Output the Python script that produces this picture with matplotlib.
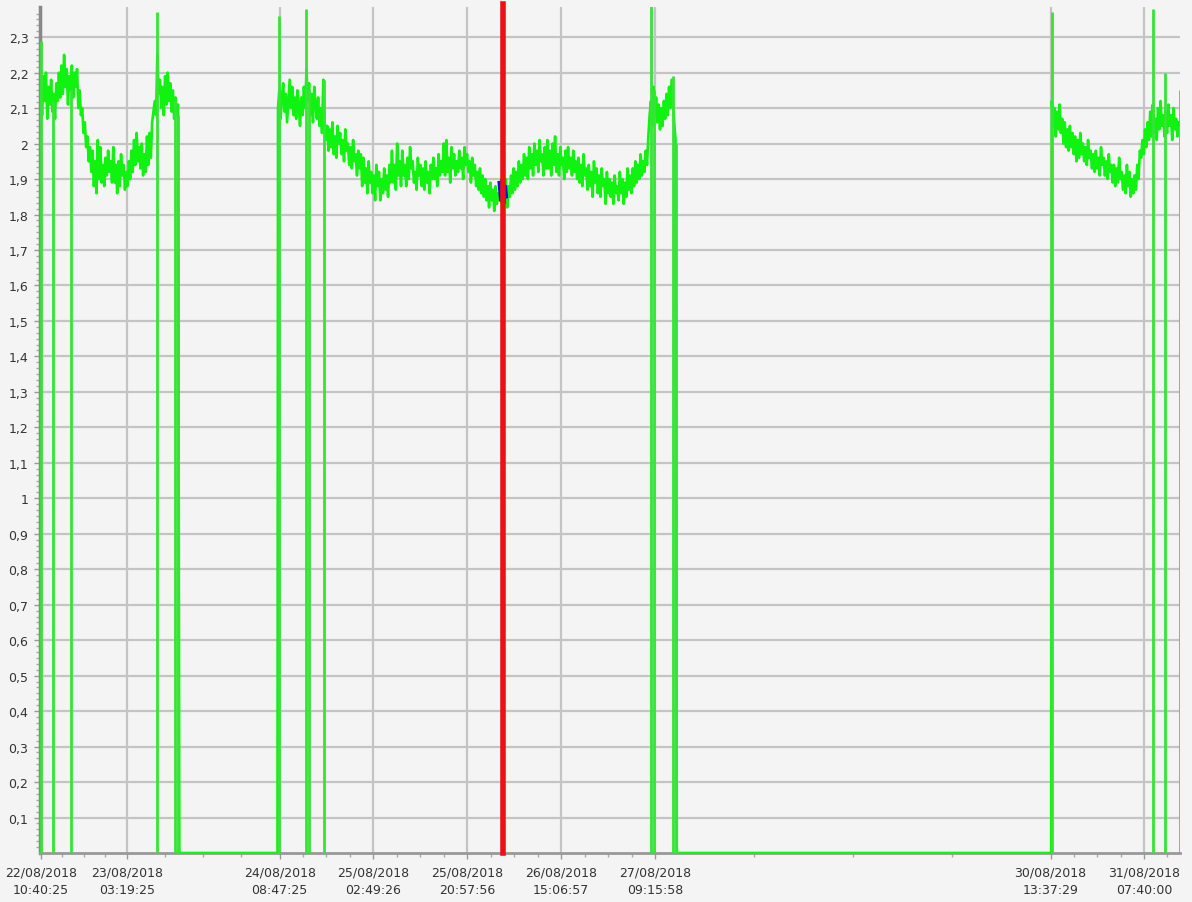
import numpy as np
import pandas as pd
import matplotlib
matplotlib.use("Agg")
import matplotlib.pyplot as plt
import matplotlib.dates as mdates
from matplotlib.ticker import FixedLocator, FuncFormatter

# start of record, all times below are hours after it
start = pd.Timestamp("2018-08-22 10:40:25")
step_h = 0.25

# first run (22/08 - 23/08), 8 readings = 2 h per row
seg_a_start = 0.0
seg_a = [2.15, 2.08, 2.19, 2.12, 2.20, 2.07, 2.16, 2.11,
         2.18, 2.09, 2.14, 2.07, 2.17, 2.12, 2.20, 2.13,
         2.22, 2.14, 2.25, 2.16, 2.21, 2.11, 2.19, 2.15,
         2.22, 2.13, 2.20, 2.16, 2.21, 2.10, 2.15, 2.08,
         2.10, 2.03, 2.06, 1.99, 2.02, 1.95, 1.99, 1.92,
         1.98, 1.88, 1.95, 1.86, 2.01, 1.90, 1.99, 1.89,
         1.94, 1.88, 1.96, 1.91, 1.98, 1.92, 1.95, 1.89,
         1.99, 1.89, 1.94, 1.86, 1.95, 1.88, 1.97, 1.91,
         1.94, 1.87, 1.92, 1.88, 1.95, 1.90, 1.98, 1.92,
         2.01, 1.94, 2.03, 1.95, 1.99, 1.93, 2.00, 1.91,
         1.97, 1.92, 2.02, 1.94, 2.03, 1.96, 2.06, 2.09,
         2.12, 2.08, 2.25, 2.14, 2.18, 2.10, 2.16, 2.08,
         2.19, 2.11, 2.20, 2.12, 2.17, 2.09, 2.15, 2.07,
         2.13, 2.08, 2.11]

# second run (24/08 - 27/08)
seg_b_start = 45.8
seg_b = [2.10, 2.15, 2.07, 2.13, 2.17, 2.09, 2.14, 2.06,
         2.12, 2.18, 2.10, 2.16, 2.08, 2.13, 2.07, 2.15,
         2.11, 2.05, 2.13, 2.08, 2.16, 2.10, 2.21, 2.12,
         2.17, 2.08, 2.14, 2.06, 2.16, 2.11, 2.07, 2.13,
         2.05, 2.10, 2.03, 2.18, 2.06, 2.01, 2.05, 1.98,
         2.04, 1.99, 2.06, 1.97, 2.02, 1.96, 2.05, 2.00,
         2.03, 1.97, 2.01, 1.95, 2.04, 1.98, 2.00, 1.94,
         1.99, 1.93, 2.01, 1.95, 1.97, 1.91, 1.98, 1.93,
         1.97, 1.88, 1.96, 1.89, 1.93, 1.86, 1.95, 1.89,
         1.92, 1.86, 1.91, 1.84, 1.94, 1.88, 1.92, 1.84,
         1.90, 1.86, 1.93, 1.87, 1.91, 1.85, 1.94, 1.89,
         1.98, 1.89, 1.94, 1.87, 2.00, 1.91, 1.95, 1.88,
         1.98, 1.91, 1.94, 1.88, 1.96, 1.90, 1.99, 1.93,
         1.95, 1.89, 1.92, 1.87, 1.96, 1.91, 1.94, 1.88,
         1.93, 1.87, 1.95, 1.89, 1.92, 1.86, 1.94, 1.90,
         1.96, 1.90, 1.93, 1.88, 1.97, 1.91, 1.95, 1.92,
         2.00, 1.91, 2.01, 1.92, 1.96, 1.89, 1.99, 1.93,
         1.97, 1.91, 1.95, 1.92, 1.98, 1.93, 1.96, 1.90,
         1.99, 1.94, 1.97, 1.92, 1.95, 1.89, 1.96, 1.91,
         1.94, 1.88, 1.92, 1.87, 1.93, 1.86, 1.91, 1.85,
         1.90, 1.84, 1.88, 1.82, 1.89, 1.84, 1.87, 1.81,
         1.88, 1.83, 1.86, 1.84, 1.89, 1.83, 1.87, 1.85,
         1.90, 1.82, 1.88, 1.85, 1.91, 1.86, 1.93, 1.87,
         1.92, 1.88, 1.95, 1.89, 1.94, 1.90, 1.97, 1.91,
         1.96, 1.90, 1.99, 1.93, 1.97, 1.91, 2.00, 1.94,
         1.98, 1.92, 2.01, 1.95, 1.97, 1.91, 1.99, 1.93,
         2.01, 1.93, 1.98, 1.91, 2.00, 1.94, 2.02, 1.92,
         1.97, 1.91, 1.99, 1.94, 1.96, 1.90, 1.98, 1.92,
         1.99, 1.93, 1.96, 1.91, 1.98, 1.92, 1.95, 1.90,
         1.96, 1.89, 1.94, 1.88, 1.97, 1.91, 1.93, 1.87,
         1.94, 1.88, 1.92, 1.85, 1.95, 1.89, 1.93, 1.86,
         1.91, 1.85, 1.93, 1.88, 1.90, 1.83, 1.92, 1.86,
         1.90, 1.85, 1.89, 1.83, 1.91, 1.86, 1.88, 1.84,
         1.92, 1.86, 1.90, 1.83, 1.89, 1.85, 1.93, 1.87,
         1.91, 1.86, 1.93, 1.88, 1.95, 1.89, 1.94, 1.90,
         1.97, 1.91, 1.95, 1.92, 1.98, 1.94, 2.02, 2.08,
         2.12, 2.05, 2.16, 2.08, 2.13, 2.06, 2.11, 2.04,
         2.10, 2.05, 2.12, 2.07, 2.14, 2.08, 2.16, 2.10,
         2.18, 2.12, 2.06, 2.01]

# third run (30/08 - 31/08)
seg_c_start = 195.2
seg_c = [2.12, 2.05, 2.10, 2.02, 2.09, 2.04, 2.11, 2.03,
         2.07, 2.00, 2.06, 1.99, 2.04, 1.98, 2.05, 1.99,
         2.03, 1.97, 2.02, 1.95, 2.01, 1.96, 2.03, 1.97,
         2.00, 1.95, 1.99, 1.94, 2.01, 1.96, 1.98, 1.93,
         1.97, 1.92, 1.98, 1.93, 1.96, 1.91, 1.99, 1.94,
         1.96, 1.91, 1.95, 1.90, 1.97, 1.92, 1.94, 1.89,
         1.94, 1.88, 1.93, 1.89, 1.96, 1.90, 1.92, 1.87,
         1.91, 1.86, 1.94, 1.88, 1.92, 1.85, 1.90, 1.86,
         1.91, 1.87, 1.94, 1.90, 1.98, 1.96, 2.01, 1.97,
         2.04, 1.99, 2.06, 2.01, 2.09, 2.02, 2.11, 2.03,
         2.07, 2.01, 2.10, 2.04, 2.12, 2.05, 2.08, 2.02,
         2.09, 2.03, 2.11, 2.05, 2.08, 2.01, 2.10, 2.04,
         2.07, 2.02, 2.06]

# sensor off (value 0) between runs
off_times = [[26.75, 45.7], [122.8, 195.1]]

# short dropouts to zero: time and level the trace comes from
drop_times = [0.0, 2.36, 5.84, 22.44, 25.92, 26.49,
              45.99, 51.2, 51.78, 54.68, 117.8, 118.4, 122.0, 122.6,
              195.2, 214.7, 217.0, 219.9]
drop_tops = [2.29, 2.12, 2.15, 2.37, 2.12, 2.08,
             2.36, 2.38, 2.15, 2.18, 2.39, 2.15, 2.19, 2.0,
             2.37, 2.38, 2.2, 2.15]

# selected point (blue) and cursor (red)
sel_times = [88.5, 88.8, 89.1, 89.4, 89.7, 89.9]
sel_vals = [1.89, 1.84, 1.90, 1.83, 1.88, 1.85]
cursor_time = 89.2

major_labels = ["2018-08-22 10:40:25", "2018-08-23 03:19:25", "2018-08-24 08:47:25",
                "2018-08-25 02:49:26", "2018-08-25 20:57:56", "2018-08-26 15:06:57",
                "2018-08-27 09:15:58", "2018-08-30 13:37:29", "2018-08-31 07:40:00"]
y_ticks = [round(0.1 * k, 1) for k in range(1, 24)]


def at(hours):
    return (start + pd.to_timedelta(np.asarray(hours, dtype=float), unit="h")).to_numpy()


def seg_times(t0, vals):
    return t0 + step_h * np.arange(len(vals))


t_all = np.concatenate([seg_times(seg_a_start, seg_a), off_times[0],
                        seg_times(seg_b_start, seg_b), off_times[1],
                        seg_times(seg_c_start, seg_c)])
v_all = np.concatenate([seg_a, [0, 0], seg_b, [0, 0], seg_c])

bg = "#f4f4f4"
fig = plt.figure(figsize=(11.92, 9.03), dpi=100, facecolor=bg)
ax = fig.add_axes([39.5 / 1192, 49 / 903, (1180 - 39.5) / 1192, (895 - 49) / 903])
ax.set_facecolor(bg)

ax.plot(at(t_all), v_all, color="#10f210", lw=1.9, zorder=3)
ax.vlines(at(drop_times), 0, drop_tops, color="#36e436", lw=2.0, zorder=3)
ax.plot(at(sel_times), sel_vals, color="#1010e0", lw=2.4, zorder=4)
ax.axvline(at(cursor_time), color="#ee1111", lw=4, zorder=5, clip_on=False,
           ymax=1.004)

ax.set_xlim(at(-0.25), at(219.95))
ax.set_ylim(0, 2.385)

# x axis: fixed date ticks, quarter minor ticks
maj = mdates.date2num(pd.to_datetime(major_labels))
ax.xaxis.set_major_locator(FixedLocator(maj))
ax.xaxis.set_major_formatter(mdates.DateFormatter("%d/%m/%Y\n%H:%M:%S"))
minor = []
for a, b in zip(maj[:-1], maj[1:]):
    minor += [a + (b - a) * q / 4 for q in (1, 2, 3)]
minor += [maj[-1] + (maj[-1] - maj[-2]) / 4]
ax.xaxis.set_minor_locator(FixedLocator(minor))

ax.yaxis.set_major_locator(FixedLocator(y_ticks))
ax.yaxis.set_major_formatter(FuncFormatter(lambda v, p: f"{v:g}".replace(".", ",")))
ax.yaxis.set_minor_locator(FixedLocator([k / 60 for k in range(1, 143)]))

ax.grid(True, which="major", color="#c4c4c4", lw=1.6, zorder=0)
ax.set_axisbelow(True)

ax.tick_params(axis="both", which="major", labelsize=9, labelcolor="#333333",
               color="#999999", length=4, width=1)
ax.tick_params(axis="x", which="major", pad=5)
ax.tick_params(axis="y", which="major", pad=4)
ax.tick_params(axis="both", which="minor", color="#aaaaaa", length=3, width=1)
for lbl in ax.get_xticklabels():
    lbl.set_linespacing(1.45)

for s in ("top", "right"):
    ax.spines[s].set_visible(False)
ax.spines["left"].set_color("#888888")
ax.spines["left"].set_linewidth(2.5)
ax.spines["bottom"].set_color("#999999")
ax.spines["bottom"].set_linewidth(2)

fig.savefig("out.png", dpi=100, facecolor=bg)
